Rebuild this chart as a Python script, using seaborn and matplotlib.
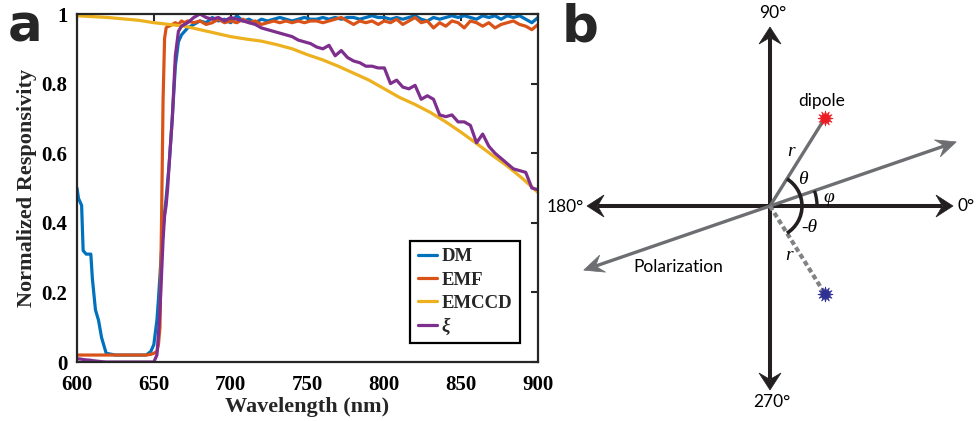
import numpy as np
import pandas as pd
import matplotlib
matplotlib.use("Agg")
import matplotlib.pyplot as plt
from matplotlib.patches import Polygon, Arc
from matplotlib.font_manager import FontProperties
import seaborn as sns

# ---------------- panel a: spectral responsivity ----------------
wavelength = [600, 601, 603, 604, 606, 609, 610, 612, 614, 616, 619, 625, 635, 645, 648,
              650, 652, 653, 654, 655, 656, 657, 658, 659, 660, 662, 664, 666, 668, 670,
              672, 676, 680, 684, 688, 692, 696, 700, 704, 708, 712, 716, 720, 724, 728,
              732, 736, 740, 744, 748, 752, 756, 760, 764, 768, 772, 776, 780, 784, 788,
              792, 796, 800, 804, 808, 812, 816, 820, 824, 828, 832, 836, 840, 844, 848,
              852, 856, 860, 864, 868, 872, 876, 880, 884, 888, 892, 896, 900]

dm = [0.50, 0.47, 0.45, 0.32, 0.31, 0.31, 0.24, 0.15, 0.12, 0.07, 0.025, 0.02, 0.02, 0.02, 0.03,
      0.05, 0.12, 0.18, 0.25, 0.32, 0.38, 0.43, 0.47, 0.52, 0.57, 0.70, 0.85, 0.92, 0.94, 0.95,
      0.96, 0.97, 0.98, 0.975, 0.99, 0.98, 0.985, 0.975, 0.995, 0.98, 0.985, 0.975, 0.985, 0.98, 0.985,
      0.99, 0.985, 0.98, 0.985, 0.99, 0.985, 0.985, 0.99, 0.985, 0.99, 0.985, 0.99, 0.99, 0.985, 0.99,
      0.995, 0.99, 0.99, 0.985, 0.99, 0.985, 0.99, 0.995, 0.985, 0.98, 0.99, 0.985, 0.99, 0.995, 0.99,
      0.995, 0.99, 0.985, 0.995, 0.99, 0.995, 0.985, 0.995, 0.99, 0.995, 0.985, 0.975, 0.99]

emf = [0.02, 0.02, 0.02, 0.02, 0.02, 0.02, 0.02, 0.02, 0.02, 0.02, 0.02, 0.02, 0.02, 0.02, 0.022,
       0.025, 0.03, 0.05, 0.10, 0.40, 0.75, 0.93, 0.96, 0.965, 0.965, 0.97, 0.975, 0.97, 0.98, 0.975,
       0.98, 0.975, 0.98, 0.97, 0.975, 0.985, 0.975, 0.98, 0.975, 0.985, 0.975, 0.98, 0.97, 0.975, 0.98,
       0.975, 0.98, 0.975, 0.98, 0.975, 0.98, 0.98, 0.975, 0.98, 0.985, 0.99, 0.98, 0.97, 0.98, 0.975,
       0.98, 0.97, 0.98, 0.975, 0.985, 0.97, 0.98, 0.99, 0.975, 0.98, 0.96, 0.975, 0.965, 0.98, 0.975,
       0.96, 0.98, 0.975, 0.965, 0.975, 0.96, 0.97, 0.975, 0.98, 0.97, 0.965, 0.955, 0.97]

xi = [0.010, 0.009, 0.008, 0.007, 0.006, 0.005, 0.004, 0.003, 0.002, 0.001, 0.0, 0.0, 0.0, 0.0, 0.0,
      0.0, 0.02, 0.08, 0.15, 0.25, 0.35, 0.42, 0.45, 0.50, 0.57, 0.70, 0.88, 0.95, 0.965, 0.97,
      0.975, 0.99, 1.0, 0.99, 0.985, 0.99, 0.98, 0.99, 0.985, 0.98, 0.975, 0.97, 0.96, 0.955, 0.95,
      0.945, 0.94, 0.935, 0.925, 0.92, 0.915, 0.905, 0.90, 0.91, 0.88, 0.895, 0.875, 0.865, 0.86, 0.85,
      0.85, 0.845, 0.845, 0.80, 0.81, 0.79, 0.785, 0.795, 0.755, 0.765, 0.755, 0.71, 0.705, 0.71, 0.69,
      0.69, 0.68, 0.63, 0.655, 0.62, 0.60, 0.585, 0.57, 0.555, 0.55, 0.545, 0.50, 0.495]

wavelength_ccd = [600, 620, 640, 650, 660, 670, 680, 690, 700, 710, 720, 730, 740, 750, 760,
                  770, 780, 790, 800, 810, 820, 830, 840, 850, 860, 870, 880, 890, 900]
emccd = [0.995, 0.99, 0.982, 0.975, 0.97, 0.965, 0.955, 0.945, 0.935, 0.928, 0.922, 0.912, 0.90,
         0.883, 0.868, 0.85, 0.83, 0.81, 0.785, 0.76, 0.74, 0.717, 0.69, 0.66, 0.628, 0.595,
         0.563, 0.527, 0.487]

series_names = ["DM", "EMF", "EMCCD", "ξ"]
series_colors = ["#0072BD", "#D95319", "#EDB120", "#7E2F8E"]
x_ticks = [600, 650, 700, 750, 800, 850, 900]
y_ticks = [0, 0.2, 0.4, 0.6, 0.8, 1]
y_tick_labels = ["0", "0.2", "0.4", "0.6", "0.8", "1"]

# ---------------- panel b: polarization geometry ----------------
angle_labels = ["0°", "90°", "180°", "270°"]
dipole_angle = 58.0        # θ, degrees
polarization_angle = 19.0  # φ, degrees

sns.set_theme(style="white")
plt.rcParams["font.family"] = ["Liberation Serif", "DejaVu Sans"]

fig = plt.figure(figsize=(9.77, 4.21), dpi=100)
W, H = 977.0, 421.0

# ---- panel a ----
ax = fig.add_axes([77 / W, (H - 362) / H, (538 - 77) / W, (362 - 14) / H])
frames = [
    pd.DataFrame({"Wavelength": wavelength, "Responsivity": dm, "Series": series_names[0]}),
    pd.DataFrame({"Wavelength": wavelength, "Responsivity": emf, "Series": series_names[1]}),
    pd.DataFrame({"Wavelength": wavelength_ccd, "Responsivity": emccd, "Series": series_names[2]}),
    pd.DataFrame({"Wavelength": wavelength, "Responsivity": xi, "Series": series_names[3]}),
]
df = pd.concat(frames, ignore_index=True)
sns.lineplot(data=df, x="Wavelength", y="Responsivity", hue="Series",
             hue_order=series_names, palette=series_colors, linewidth=2.3,
             estimator=None, sort=False, ax=ax)

dark = "#262626"
ax.set_xlim(600, 900)
ax.set_ylim(0, 1)
ax.set_xticks(x_ticks)
ax.set_yticks(y_ticks)
ax.set_yticklabels(y_tick_labels)
for s in ax.spines.values():
    s.set_visible(True)
    s.set_color(dark)
    s.set_linewidth(1.6)
ax.tick_params(direction="in", length=5, width=1.5, top=True, right=True,
               labelsize=15, colors=dark, labelcolor="black")
ax.tick_params(axis="x", pad=9)
ax.tick_params(axis="y", pad=7)
for lab in ax.get_xticklabels() + ax.get_yticklabels():
    lab.set_fontweight("bold")
ax.set_xlabel("Wavelength (nm)", fontsize=16, fontweight="bold", labelpad=2)
ax.set_ylabel("Normalized Responsivity", fontsize=16, fontweight="bold", labelpad=3)

handles, labels = ax.get_legend_handles_labels()
leg = ax.legend(handles, labels, loc="lower right", bbox_to_anchor=(0.961, 0.055),
                frameon=True, fancybox=False, framealpha=1, edgecolor="black",
                prop=FontProperties(family="Liberation Serif", weight="bold", size=13.5),
                handlelength=1.05, handletextpad=0.25, borderpad=0.4, labelspacing=0.33,
                borderaxespad=0)
leg.get_frame().set_linewidth(1.6)
for line in leg.get_lines():
    line.set_linewidth(2.3)
leg.get_texts()[3].set_fontstyle("italic")

fig.text(8 / W, 1 - 42 / H, "a", fontsize=37, fontweight="bold",
         family="DejaVu Sans", va="baseline", ha="left")

# ---- panel b ----
axb = fig.add_axes([545 / W, 0, (W - 545) / W, 1])
axb.set_xlim(545, W)
axb.set_ylim(H, 0)
axb.axis("off")

black = "#231f20"
gray = "#6d6e71"
cx, cy = 770.0, 206.0
sans = "Lato"


def unit(deg):
    a = np.deg2rad(deg)
    return np.array([np.cos(a), -np.sin(a)])


def arrow(start, tip, color, lw, head_len, head_w):
    start = np.asarray(start, float)
    tip = np.asarray(tip, float)
    d = (tip - start) / np.linalg.norm(tip - start)
    n = np.array([-d[1], d[0]])
    notch = tip - 0.62 * head_len * d
    axb.plot([start[0], notch[0]], [start[1], notch[1]], color=color, lw=lw,
             solid_capstyle="butt", zorder=2)
    pts = [tip, tip - head_len * d + head_w * n, notch, tip - head_len * d - head_w * n]
    axb.add_patch(Polygon(pts, closed=True, facecolor=color, edgecolor=color,
                          lw=0.5, zorder=3))


# coordinate axes
axis_len = {0: 183, 90: 179, 180: 183, 270: 184}
for ang, L in axis_len.items():
    arrow((cx, cy), np.array([cx, cy]) + L * unit(ang), black, 2.9, 17, 11)

# polarization direction
pol_len = 197
arrow((cx, cy), np.array([cx, cy]) + pol_len * unit(polarization_angle), gray, 2.4, 20, 9)
arrow((cx, cy), np.array([cx, cy]) + pol_len * unit(polarization_angle + 180), gray, 2.4, 20, 9)

# dipole and its mirror image
r_len = 104
p_up = np.array([cx, cy]) + r_len * unit(dipole_angle)
p_dn = np.array([cx, cy]) + r_len * unit(-dipole_angle)
axb.plot([cx, p_up[0]], [cy, p_up[1]], color=gray, lw=2.4, solid_capstyle="butt", zorder=2)
axb.plot([cx, p_dn[0]], [cy, p_dn[1]], color="#808285", lw=3.0,
         linestyle=(0, (1.2, 0.75)), zorder=2)
axb.plot(p_up[0], p_up[1], marker=(12, 1, 0), markersize=11, color="#ed1c24",
         markeredgewidth=0.5, zorder=4)
axb.plot(p_dn[0], p_dn[1], marker=(12, 1, 0), markersize=11, color="#2e3192",
         markeredgewidth=0.5, zorder=4)

# angle arcs (angles negated because the y axis runs downward)
axb.add_patch(Arc((cx, cy), 64, 64, theta1=-dipole_angle, theta2=dipole_angle,
                  color=black, lw=2.6, zorder=3))
axb.add_patch(Arc((cx, cy), 94, 94, theta1=-polarization_angle, theta2=0,
                  color=black, lw=2.4, zorder=3))

txt = dict(fontsize=12.5, family=sans, color="black")
axb.text(cx + 188, cy, angle_labels[0], ha="left", va="center", **txt)
axb.text(cx + 3, 13, angle_labels[1], ha="center", va="center", **txt)
axb.text(cx - 186, cy + 1, angle_labels[2], ha="right", va="center", **txt)
axb.text(cx + 2, 402, angle_labels[3], ha="center", va="center", **txt)
axb.text(822, 101, "dipole", ha="center", va="center", **txt)
axb.text(678, 267, "Polarization", ha="center", va="center", **txt)

ital = dict(fontsize=14, family="Liberation Serif", style="italic", color="black",
            ha="center", va="center")
axb.text(791, 151, "r", **ital)
axb.text(803, 180, "θ", **ital)
axb.text(829, 197, "φ", **ital)
axb.text(809, 227, "-θ", **ital)
axb.text(789, 256, "r", **ital)

fig.text(562 / W, 1 - 42 / H, "b", fontsize=37, fontweight="bold",
         family="DejaVu Sans", va="baseline", ha="left")

fig.savefig("out.png", dpi=100)
